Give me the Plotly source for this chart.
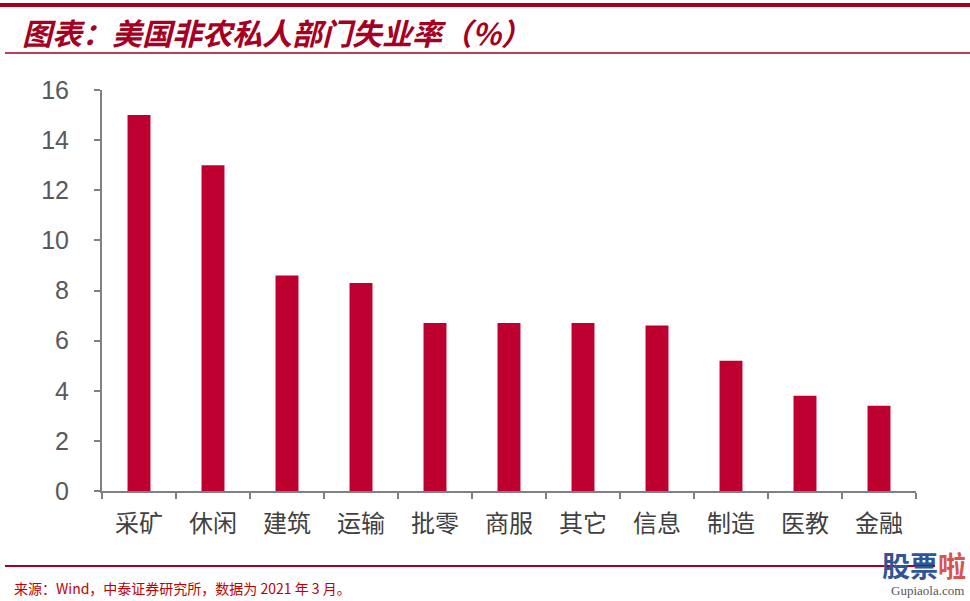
import plotly.graph_objects as go

categories = ["采矿", "休闲", "建筑", "运输", "批零", "商服", "其它", "信息", "制造", "医教", "金融"]
values = [15.0, 13.0, 8.6, 8.3, 6.7, 6.7, 6.7, 6.6, 5.2, 3.8, 3.4]
y_ticks = [0, 2, 4, 6, 8, 10, 12, 14, 16]

W, H = 970, 601
L, R, T, B = 102, 54, 90, 110

fig = go.Figure(go.Bar(x=categories, y=values, marker_color="#BE0030",
                       marker_line_width=0, width=0.31))

fig.update_layout(
    width=W, height=H, margin=dict(l=L, r=R, t=T, b=B),
    paper_bgcolor="white", plot_bgcolor="white", showlegend=False,
    bargap=0.69,
)
fig.update_yaxes(range=[0, 16], tickvals=y_ticks, showgrid=False, zeroline=False,
                 showline=True, linecolor="#808080", linewidth=2,
                 ticks="outside", ticklen=6, tickwidth=2, tickcolor="#808080",
                 ticklabelstandoff=20,
                 tickfont=dict(family="Liberation Sans, Arial", size=25, color="#595959"))
fig.update_xaxes(showgrid=False, showline=True, linecolor="#808080", linewidth=2,
                 ticks="outside", ticklen=6, tickwidth=2, tickcolor="#808080",
                 tickson="boundaries", ticklabelstandoff=10,
                 tickfont=dict(family="Noto Sans CJK SC", size=24, color="#404040"))

shapes = [
    dict(type="line", xref="paper", yref="paper", x0=-L / (W - L - R), x1=(W - L) / (W - L - R),
         y0=1 + (T - 5) / (H - T - B), y1=1 + (T - 5) / (H - T - B), line=dict(color="#A50021", width=4)),
    dict(type="line", xref="paper", yref="paper", x0=(5 - L) / (W - L - R), x1=(W - L) / (W - L - R),
         y0=1 + (T - 53) / (H - T - B), y1=1 + (T - 53) / (H - T - B), line=dict(color="#A50021", width=1.5)),
    dict(type="line", xref="paper", yref="paper", x0=(5 - L) / (W - L - R), x1=(935 - L) / (W - L - R),
         y0=-(566 - (H - B)) / (H - T - B), y1=-(566 - (H - B)) / (H - T - B), line=dict(color="#A50021", width=2)),
]

annotations = [
    dict(text="<b><i>图表：美国非农私人部门失业率（%）</i></b>", xref="paper", yref="paper",
         x=(20 - L) / (W - L - R), y=1 + (T - 32) / (H - T - B), xanchor="left", yanchor="middle",
         showarrow=False, font=dict(family="Noto Sans CJK SC", size=30, color="#A50021")),
    dict(text="来源：Wind，中泰证券研究所，数据为 2021 年 3 月。", xref="paper", yref="paper",
         x=(12 - L) / (W - L - R), y=-(588 - (H - B)) / (H - T - B), xanchor="left", yanchor="middle",
         showarrow=False, font=dict(family="Noto Sans CJK SC", size=14, color="#C00000")),
    dict(text="<b>股票</b><b><span style='color:#D9534F'>啦</span></b>", xref="paper", yref="paper",
         x=(968 - L) / (W - L - R), y=-(565 - (H - B)) / (H - T - B), xanchor="right", yanchor="middle",
         showarrow=False, font=dict(family="Noto Sans CJK SC", size=28, color="#2F5597")),
    dict(text="Gupiaola.com", xref="paper", yref="paper",
         x=(966 - L) / (W - L - R), y=-(590 - (H - B)) / (H - T - B), xanchor="right", yanchor="middle",
         showarrow=False, font=dict(family="Liberation Serif", size=13, color="#555555")),
]
fig.update_layout(shapes=shapes, annotations=annotations)

fig.write_html("out.html")
